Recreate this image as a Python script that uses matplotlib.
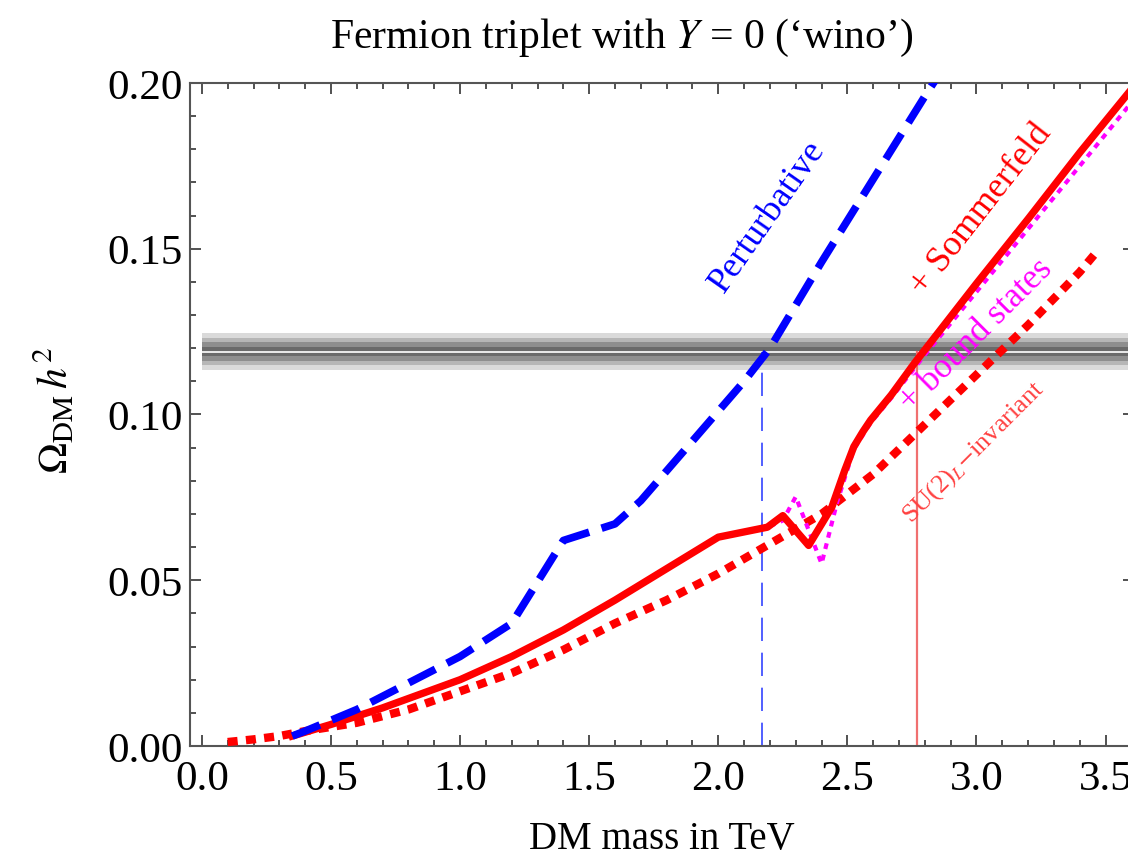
import matplotlib

matplotlib.use("Agg")

import matplotlib.pyplot as plt
from matplotlib.ticker import MultipleLocator

# DM mass in TeV vs relic abundance
pert_m = [0.35, 0.4, 0.6, 0.8, 1.0, 1.2, 1.4, 1.6, 1.7, 1.8, 1.9, 2.0, 2.1, 2.2, 2.4, 2.6, 2.8, 2.9]
pert_omega = [0.003, 0.0045, 0.011, 0.019, 0.027, 0.037, 0.062, 0.067, 0.074, 0.083,
              0.092, 0.101, 0.110, 0.120, 0.146, 0.171, 0.196, 0.208]

somm_m = [0.35, 0.5, 0.7, 1.0, 1.2, 1.4, 1.6, 1.8, 2.0, 2.19, 2.25, 2.35, 2.44, 2.49, 2.525, 2.56, 2.59,
          2.67, 2.76, 2.8, 3.0, 3.2, 3.4, 3.62]
somm_omega = [0.003, 0.0065, 0.0115, 0.020, 0.027, 0.035, 0.044, 0.0535, 0.063, 0.066, 0.0695, 0.0605,
              0.0721, 0.0832, 0.0903, 0.0948, 0.0983, 0.1059, 0.1155, 0.1195, 0.1395, 0.159, 0.179, 0.2]

bound_m = [0.35, 0.5, 0.7, 1.0, 1.2, 1.4, 1.6, 1.8, 2.0, 2.19, 2.25, 2.30, 2.40, 2.46, 2.525, 2.59,
           2.67, 2.76, 2.8, 3.0, 3.2, 3.4, 3.62]
bound_omega = [0.003, 0.0065, 0.0115, 0.020, 0.027, 0.035, 0.044, 0.0535, 0.063, 0.066, 0.068, 0.0752,
               0.055, 0.0735, 0.0895, 0.0975, 0.105, 0.114, 0.118, 0.137, 0.156, 0.175, 0.196]

su2_m = [0.1, 0.2, 0.3, 0.4, 0.6, 0.8, 1.0, 1.2, 1.4, 1.6, 1.8, 2.0, 2.2, 2.4, 2.6, 2.8, 3.0, 3.2, 3.4, 3.47]
su2_omega = [0.0012, 0.002, 0.003, 0.0045, 0.007, 0.011, 0.0165, 0.022, 0.029, 0.037, 0.044, 0.052,
             0.061, 0.070, 0.082, 0.097, 0.112, 0.127, 0.143, 0.1495]

# observed relic abundance band: centre and nested half widths
omega_obs = 0.119
band_half = [0.0055, 0.0042, 0.0028, 0.0015]
band_colors = ["#dadada", "#b6b6b6", "#8e8e8e", "#6a6a6a"]

m_pert_cross = 2.17
m_somm_cross = 2.77

plt.rcParams["font.family"] = ["Liberation Serif", "DejaVu Serif"]
plt.rcParams["mathtext.fontset"] = "stix"

W, H = 1128, 862
fig = plt.figure(figsize=(W / 100, H / 100), dpi=100)
ax = fig.add_axes([190 / W, 1 - 747 / H, (1134 - 190) / W, (747 - 84) / H])

band_x = [0.0, 4.0]
for half, col in zip(band_half, band_colors):
    ax.fill_between(band_x, omega_obs - half, omega_obs + half, color=col, lw=0, zorder=1)
ax.plot(band_x, [omega_obs, omega_obs], color="white", lw=1.2, zorder=1.5)

ax.plot([m_pert_cross, m_pert_cross], [0, omega_obs], color="#3344ff", lw=1.2,
        linestyle=(0, (14, 7)), zorder=2)
ax.plot([m_somm_cross, m_somm_cross], [0, omega_obs], color="#f07070", lw=1.6, zorder=2)

ax.plot(su2_m, su2_omega, color="#ff0000", lw=6, linestyle=(0, (1.2, 1.0)),
        dash_capstyle="butt", zorder=3)
ax.plot(bound_m, bound_omega, color="#ff00ff", lw=3, linestyle=(0, (1.4, 1.4)),
        dash_capstyle="butt", zorder=3)
ax.plot(somm_m, somm_omega, color="#ff0000", lw=5.3, zorder=4)
ax.plot(pert_m, pert_omega, color="#0000ff", lw=5.5, linestyle=(0, (3.9, 1.7)),
        dash_capstyle="butt", zorder=4)

ax.text(2.19, 0.160, "Perturbative", color="#0000ff", fontsize=26, rotation=55,
        ha="center", va="center", zorder=5)
ax.text(3.02, 0.162, "+ Sommerfeld", color="#ff0000", fontsize=26, rotation=52,
        ha="center", va="center", zorder=5)
ax.text(3.0, 0.124, "+ bound states", color="#ff00ff", fontsize=25, rotation=45,
        ha="center", va="center", zorder=5)
ax.text(2.99, 0.089, r"SU(2)$_L$$-$invariant", color="#ff4040", fontsize=19, rotation=45,
        ha="center", va="center", zorder=5)

ax.set_xlim(-0.046, 3.61)
ax.set_ylim(0, 0.2)
ax.xaxis.set_major_locator(MultipleLocator(0.5))
ax.xaxis.set_minor_locator(MultipleLocator(0.1))
ax.yaxis.set_major_locator(MultipleLocator(0.05))
ax.yaxis.set_minor_locator(MultipleLocator(0.01))
ax.xaxis.set_major_formatter(lambda v, pos: f"{v:.1f}")
ax.yaxis.set_major_formatter(lambda v, pos: f"{v:.2f}")
ax.tick_params(which="both", direction="in", top=True, right=True, colors="#333333",
               labelcolor="black", labelsize=31, width=1.2)
ax.tick_params(which="major", length=8)
ax.tick_params(which="minor", length=4.5)
ax.tick_params(axis="x", which="major", pad=10)
ax.tick_params(axis="y", which="major", pad=5)
for side in ax.spines.values():
    side.set_color("#555555")
    side.set_linewidth(1.5)

fig.text(622 / W, 1 - 38 / H, r"Fermion triplet with $Y$ = 0 (‘wino’)", fontsize=30,
         ha="center", va="center")
fig.text(662 / W, 1 - 840 / H, "DM mass in TeV", fontsize=28, ha="center", va="center")
fig.text(55 / W, 1 - 410 / H, r"$\Omega_{\rm DM}\,h^2$", fontsize=30, rotation=90,
         ha="center", va="center")

fig.savefig("out.png", dpi=100)
